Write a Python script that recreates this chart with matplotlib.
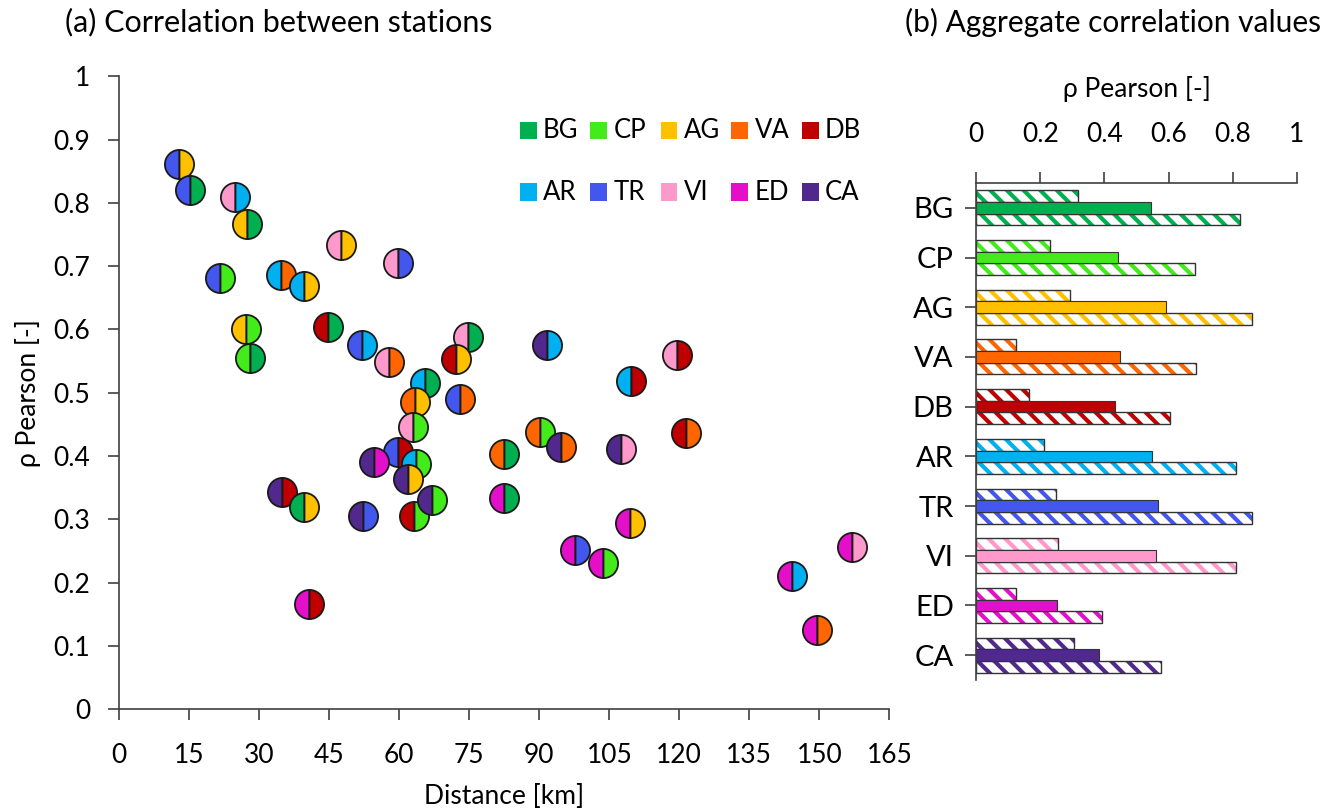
import matplotlib
matplotlib.use("Agg")
import matplotlib.pyplot as plt
from matplotlib.patches import Rectangle

plt.rcParams['font.family'] = ['Lato', 'DejaVu Sans']
plt.rcParams['hatch.linewidth'] = 3.0

# stations and their colours
stations = ['BG', 'CP', 'AG', 'VA', 'DB', 'AR', 'TR', 'VI', 'ED', 'CA']
station_colors = {
    'BG': '#00B050', 'CP': '#43EB1A', 'AG': '#FFC000', 'VA': '#FF6600',
    'DB': '#C00000', 'AR': '#00B0F0', 'TR': '#4357EE', 'VI': '#FF99CC',
    'ED': '#E30FC9', 'CA': '#51288C',
}

# (a) pairwise correlation vs distance
distance = [12.8, 15.2, 24.8, 27.4, 47.5, 59.8, 21.6, 34.7, 39.6, 27.1,
            28.0, 44.8, 52.1, 57.7, 74.8, 72.2, 65.5, 63.4, 73.0, 91.6,
            109.7, 62.9, 90.2, 94.7, 82.5, 107.5, 59.7, 54.6, 63.6, 61.8,
            34.9, 39.6, 52.2, 63.2, 66.9, 82.5, 109.4, 97.7, 103.6, 40.7,
            119.5, 121.4, 144.1, 157.1, 149.5]
rho = [0.861, 0.821, 0.810, 0.767, 0.733, 0.705, 0.682, 0.686, 0.668, 0.601,
       0.555, 0.604, 0.576, 0.548, 0.588, 0.553, 0.516, 0.486, 0.490, 0.576,
       0.518, 0.446, 0.438, 0.415, 0.404, 0.412, 0.406, 0.390, 0.387, 0.364,
       0.343, 0.319, 0.305, 0.305, 0.331, 0.334, 0.294, 0.251, 0.231, 0.166,
       0.559, 0.436, 0.211, 0.256, 0.125]
left_station = ['TR', 'TR', 'VI', 'AG', 'VI', 'VI', 'TR', 'AR', 'AR', 'AG',
                'CP', 'DB', 'TR', 'VI', 'VI', 'DB', 'AR', 'VA', 'TR', 'CA',
                'AR', 'VI', 'VA', 'CA', 'VA', 'CA', 'TR', 'CA', 'AR', 'CA',
                'CA', 'BG', 'CA', 'DB', 'CA', 'ED', 'ED', 'ED', 'ED', 'ED',
                'VI', 'DB', 'ED', 'ED', 'ED']
right_station = ['AG', 'BG', 'AR', 'BG', 'AG', 'TR', 'CP', 'VA', 'AG', 'CP',
                 'BG', 'BG', 'AR', 'VA', 'BG', 'AG', 'BG', 'AG', 'VA', 'AR',
                 'DB', 'CP', 'CP', 'VA', 'BG', 'VI', 'DB', 'ED', 'CP', 'AG',
                 'DB', 'AG', 'TR', 'CP', 'CP', 'BG', 'AG', 'TR', 'CP', 'DB',
                 'DB', 'VA', 'AR', 'VI', 'VA']

# (b) aggregate values per station
rho_min = [0.318, 0.232, 0.292, 0.124, 0.166, 0.211, 0.249, 0.256, 0.124, 0.306]
rho_mean = [0.544, 0.442, 0.593, 0.449, 0.433, 0.548, 0.568, 0.562, 0.251, 0.384]
rho_max = [0.821, 0.682, 0.861, 0.685, 0.603, 0.809, 0.861, 0.809, 0.391, 0.575]

W, H = 1344, 809
fig = plt.figure(figsize=(W / 100, H / 100), dpi=100)

# ---------------- (a) scatter ----------------
ax = fig.add_axes([119.3 / W, 1 - 709.3 / H, 770 / W, 633 / H])
for x, y, a, b in zip(distance, rho, left_station, right_station):
    ax.plot(x, y, marker='o', linestyle='none', ms=21, fillstyle='left',
            markerfacecolor=station_colors[a],
            markerfacecoloralt=station_colors[b],
            markeredgecolor='#1a1a1a', mew=1.3)
ax.set_xlim(0, 165)
ax.set_ylim(0, 1)
ax.set_xticks(range(0, 166, 15))
ax.set_yticks([i / 10 for i in range(11)])
ax.set_yticklabels(['0', '0.1', '0.2', '0.3', '0.4', '0.5', '0.6', '0.7',
                    '0.8', '0.9', '1'])
for s in ['top', 'right']:
    ax.spines[s].set_visible(False)
for s in ['left', 'bottom']:
    ax.spines[s].set_color('#404040')
    ax.spines[s].set_linewidth(1.2)
ax.tick_params(direction='out', length=8, width=1.2, color='#404040',
               labelsize=19, pad=13)
ax.tick_params(axis='x', pad=16)
ax.set_xlabel('Distance [km]', fontsize=19, labelpad=12)
ax.set_ylabel('ρ Pearson [-]', fontsize=19, labelpad=9)
fig.text(65 / W, 1 - 22 / H, '(a) Correlation between stations',
         fontsize=22, va='center', ha='left')

# legend, laid out like a 2x5 grid
for i, name in enumerate(stations):
    px = 528 + (i % 5) * 70.5
    py = 131 + (i // 5) * 61
    fig.patches.append(Rectangle((px / W - 8.5 / W, 1 - py / H - 8.5 / H),
                                 17 / W, 17 / H, transform=fig.transFigure,
                                 facecolor=station_colors[name],
                                 edgecolor='none'))
    fig.text((px + 15) / W, 1 - py / H, name, fontsize=18.5,
             va='center', ha='left')

# ---------------- (b) bars ----------------
bx = fig.add_axes([976 / W, 1 - 680 / H, 321 / W, 497 / H])
pos = [i + 0.5 for i in range(len(stations))]
bh = 0.235
for i, name in enumerate(stations):
    c = station_colors[name]
    y = pos[i]
    for val, off in [(rho_min[i], -bh), (rho_max[i], bh)]:
        bx.barh(y + off, val, height=bh, color='white', edgecolor=c,
                hatch='\\\\', linewidth=0)
        bx.barh(y + off, val, height=bh, fill=False, edgecolor='#333333',
                linewidth=1.0)
    bx.barh(y, rho_mean[i], height=bh, color=c, edgecolor='#333333',
            linewidth=0.8)
bx.set_xlim(0, 1)
bx.set_ylim(len(stations), 0)
bx.set_yticks(pos)
bx.set_yticklabels(stations)
bx.set_xticks([0, 0.2, 0.4, 0.6, 0.8, 1])
bx.set_xticklabels(['0', '0.2', '0.4', '0.6', '0.8', '1'])
bx.xaxis.tick_top()
bx.xaxis.set_label_position('top')
for s in ['bottom', 'right']:
    bx.spines[s].set_visible(False)
for s in ['left', 'top']:
    bx.spines[s].set_color('#404040')
    bx.spines[s].set_linewidth(1.2)
bx.tick_params(axis='x', direction='out', length=8, width=1.2,
               color='#404040', labelsize=19, pad=18)
bx.tick_params(axis='y', direction='out', length=8, width=1.2,
               color='#404040', labelsize=21, pad=8)
bx.set_xlabel('ρ Pearson [-]', fontsize=19, labelpad=18)
fig.text(905 / W, 1 - 22 / H, '(b) Aggregate correlation values',
         fontsize=21.5, va='center', ha='left')

fig.savefig('out.png', dpi=100)
